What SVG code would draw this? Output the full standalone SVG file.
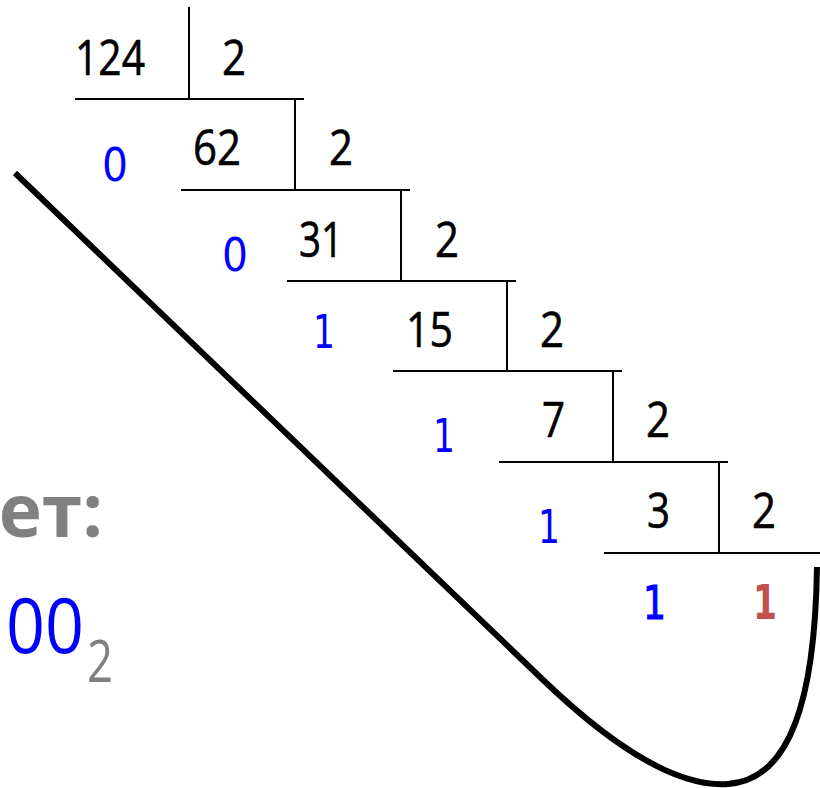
<svg xmlns="http://www.w3.org/2000/svg" width="820" height="788" viewBox="0 0 820 788">
<style>
.ln{stroke:#000;stroke-width:2;fill:none}
.k{font-family:"Open Sans","DejaVu Sans",sans-serif;font-size:49px;fill:#000;stroke:#000;stroke-width:0.6}
.b{font-family:"DejaVu Sans","Open Sans",sans-serif;font-size:47px;fill:#0000FF}
.r{font-family:"DejaVu Sans","Open Sans",sans-serif;font-size:48px;font-weight:bold;fill:#C0504D}
.g{font-family:"Open Sans","DejaVu Sans",sans-serif;font-weight:bold;fill:#808080}
</style>
<rect width="820" height="788" fill="#fff"/>
<g id="row1">
<line class="ln" x1="189" y1="7" x2="189" y2="99"/>
<line class="ln" x1="75" y1="99" x2="304" y2="99"/>
<text class="k" x="75" y="75" textLength="70" lengthAdjust="spacingAndGlyphs">124</text>
<text class="k" x="222" y="75" textLength="24" lengthAdjust="spacingAndGlyphs">2</text>
</g>
<g id="row2">
<line class="ln" x1="295" y1="99" x2="295" y2="190"/>
<line class="ln" x1="181" y1="190" x2="410" y2="190"/>
<text class="b" x="102" y="181" textLength="26" lengthAdjust="spacingAndGlyphs">0</text>
<text class="k" x="193" y="165" textLength="48" lengthAdjust="spacingAndGlyphs">62</text>
<text class="k" x="329" y="165" textLength="24" lengthAdjust="spacingAndGlyphs">2</text>
</g>
<g id="row3">
<line class="ln" x1="401" y1="190" x2="401" y2="281"/>
<line class="ln" x1="287" y1="281" x2="516" y2="281"/>
<text class="b" x="222" y="271" textLength="26" lengthAdjust="spacingAndGlyphs">0</text>
<text class="k" x="299" y="257" textLength="44" lengthAdjust="spacingAndGlyphs">31</text>
<text class="k" x="435" y="257" textLength="24" lengthAdjust="spacingAndGlyphs">2</text>
</g>
<g id="row4">
<line class="ln" x1="507" y1="281" x2="507" y2="371"/>
<line class="ln" x1="393" y1="371" x2="622" y2="371"/>
<text class="b" x="313" y="348" textLength="22" lengthAdjust="spacingAndGlyphs">1</text>
<text class="k" x="406" y="347" textLength="47" lengthAdjust="spacingAndGlyphs">15</text>
<text class="k" x="540" y="347" textLength="24" lengthAdjust="spacingAndGlyphs">2</text>
</g>
<g id="row5">
<line class="ln" x1="613" y1="371" x2="613" y2="462"/>
<line class="ln" x1="499" y1="462" x2="728" y2="462"/>
<text class="b" x="433" y="452" textLength="22" lengthAdjust="spacingAndGlyphs">1</text>
<text class="k" x="542" y="437" textLength="23" lengthAdjust="spacingAndGlyphs">7</text>
<text class="k" x="646" y="437" textLength="24" lengthAdjust="spacingAndGlyphs">2</text>
</g>
<g id="row6">
<line class="ln" x1="719" y1="462" x2="719" y2="553"/>
<line class="ln" x1="604" y1="553" x2="820" y2="553"/>
<text class="b" x="538" y="543" textLength="22" lengthAdjust="spacingAndGlyphs">1</text>
<text class="k" x="647" y="528" textLength="23" lengthAdjust="spacingAndGlyphs">3</text>
<text class="k" x="752" y="528" textLength="24" lengthAdjust="spacingAndGlyphs">2</text>
</g>
<g id="row7">
<text class="b" x="643" y="619" stroke="#0000FF" stroke-width="1.2" textLength="23" lengthAdjust="spacingAndGlyphs">1</text>
<text class="r" x="753" y="619" textLength="24" lengthAdjust="spacingAndGlyphs">1</text>
</g>
<g id="answer">
<text class="g" x="103" y="537" font-size="73" text-anchor="end">ет:</text>
<text x="6" y="653" font-family="Open Sans,DejaVu Sans,sans-serif" font-size="76" fill="#0000FF" textLength="78" lengthAdjust="spacingAndGlyphs">00</text>
<text x="87" y="682" font-family="Open Sans,DejaVu Sans,sans-serif" font-size="58" fill="#808080" textLength="26" lengthAdjust="spacingAndGlyphs">2</text>
</g>
<g id="connectors">
<path d="M15,173 L540,677 C600,735 670,788 728,784 C790,780 815,700 817,567" fill="none" stroke="#000" stroke-width="6"/>
</g>
</svg>
